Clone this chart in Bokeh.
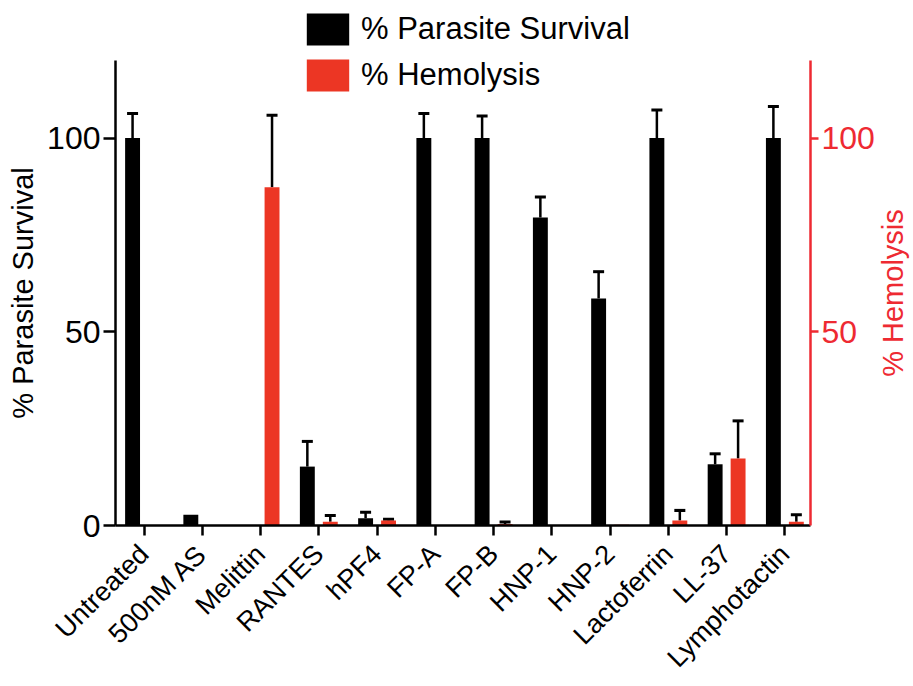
import numpy as np
from math import pi
from bokeh.plotting import figure
from bokeh.layouts import row
from bokeh.core.properties import value
from bokeh.models import (ColumnDataSource, Range1d, LinearAxis, FixedTicker,
                          Whisker, TeeHead, Legend, LegendItem)
from bokeh.transform import dodge
from bokeh.embed import file_html
from bokeh.resources import INLINE

categories = ["Untreated", "500nM AS", "Melittin", "RANTES", "hPF4", "FP-A",
              "FP-B", "HNP-1", "HNP-2", "Lactoferrin", "LL-37", "Lymphotactin"]
survival = [100, 2.8, 0, 15.2, 1.9, 100, 100, 79.5, 58.6, 100, 15.8, 100]
survival_sd = [6.3, np.nan, np.nan, 6.5, 1.5, 6.3, 5.7, 5.3, 6.9, 7.2, 2.7, 8.1]
hemolysis = [0, 0, 87.3, 1.0, 1.3, 0, 0.4, 0, 0.2, 1.3, 17.3, 1.0]
hemolysis_sd = [np.nan, np.nan, 18.6, 1.6, 0.3, np.nan, 0.5, np.nan, np.nan, 2.6, 9.7, 1.8]
left_ticks = [0, 50, 100]
right_ticks = [50, 100]
axis_max = 120
left_title = "% Parasite Survival"
right_title = "% Hemolysis"

BLACK = "#000000"
RED = "#ec3624"
AXRED = "#ee2a32"
FONT = "Liberation Sans"

H = 686
FRAME_BOTTOM = 525.0   # canvas y of the x axis
AXIS_TOP = 60.0        # canvas y where the y axes end
px_per_unit = (FRAME_BOTTOM - AXIS_TOP) / axis_max
y_end = FRAME_BOTTOM / px_per_unit

W_LEFT = 44
W_RIGHT = 35
W_MAIN = 913 - W_LEFT - W_RIGHT

x = list(range(len(categories)))
src = ColumnDataSource(dict(x=x, surv=survival, hemo=hemolysis))

def err_source(vals, sds):
    xs, lo, up = [], [], []
    for i, (v, s) in enumerate(zip(vals, sds)):
        if not np.isnan(s):
            xs.append(i); lo.append(v); up.append(v + s)
    return ColumnDataSource(dict(x=xs, lower=lo, upper=up))

surv_err = err_source(survival, survival_sd)
hemo_err = err_source(hemolysis, hemolysis_sd)

p = figure(width=W_MAIN, height=H, output_backend="svg", toolbar_location=None,
           x_range=Range1d(-0.49, 11.44), y_range=Range1d(0, y_end),
           min_border_left=112 - W_LEFT, min_border_right=W_MAIN + W_LEFT - 810,
           min_border_top=0, min_border_bottom=int(H - FRAME_BOTTOM))
p.extra_y_ranges = {"hemo": Range1d(0, y_end)}
p.outline_line_color = None
p.grid.visible = False
p.background_fill_color = "white"
p.border_fill_color = "white"

off = 0.197
bw = 0.256
r_surv = p.vbar(x=dodge("x", -off, range=p.x_range), top="surv", width=bw, source=src,
                fill_color=BLACK, line_color=None)
r_hemo = p.vbar(x=dodge("x", off, range=p.x_range), top="hemo", width=bw, source=src,
                fill_color=RED, line_color=None, y_range_name="hemo")

w1 = Whisker(base=dodge("x", -off, range=p.x_range), lower="lower", upper="upper",
             source=surv_err, line_color=BLACK, line_width=2.5,
             upper_head=TeeHead(size=11, line_width=3, line_color=BLACK), lower_head=None)
w2 = Whisker(base=dodge("x", off, range=p.x_range), lower="lower", upper="upper",
             source=hemo_err, line_color=BLACK, line_width=2.5, y_range_name="hemo",
             upper_head=TeeHead(size=11, line_width=3, line_color=BLACK), lower_head=None)
p.add_layout(w1)
p.add_layout(w2)

# x axis
xa = p.xaxis[0]
xa.ticker = FixedTicker(ticks=x)
xa.major_label_overrides = {i: c for i, c in enumerate(categories)}
xa.major_label_orientation = pi / 4
xa.major_label_text_font = FONT
xa.major_label_text_font_size = "27px"
xa.major_label_text_color = BLACK
xa.major_label_standoff = 14
xa.axis_line_width = 2.5
xa.axis_line_color = BLACK
xa.major_tick_line_width = 2.5
xa.major_tick_out = 10
xa.major_tick_in = 0
xa.minor_tick_line_color = None

# left axis
ya = p.yaxis[0]
ya.ticker = FixedTicker(ticks=left_ticks)
ya.bounds = (0, axis_max)
ya.major_label_text_font = FONT
ya.major_label_text_font_size = "32px"
ya.major_label_text_color = BLACK
ya.major_label_standoff = 3
ya.axis_line_width = 2.5
ya.major_tick_line_width = 2.5
ya.major_tick_out = 12
ya.major_tick_in = 0
ya.minor_tick_line_color = None

# right axis
ra = LinearAxis(y_range_name="hemo", ticker=FixedTicker(ticks=right_ticks), bounds=(0, axis_max))
ra.major_label_text_font = FONT
ra.major_label_text_font_size = "32px"
ra.major_label_text_color = AXRED
ra.major_label_standoff = 3
ra.axis_line_color = AXRED
ra.axis_line_width = 2.5
ra.major_tick_line_color = AXRED
ra.major_tick_line_width = 2.5
ra.major_tick_out = 8
ra.major_tick_in = 0
ra.minor_tick_line_color = None
p.add_layout(ra, "right")

legend = Legend(items=[LegendItem(label="% Parasite Survival", renderers=[r_surv]),
                       LegendItem(label="% Hemolysis", renderers=[r_hemo])],
                location=(186, 430), orientation="vertical",
                glyph_width=53, glyph_height=40, label_height=40,
                label_standoff=7, spacing=6, padding=0, margin=0,
                label_text_font=FONT, label_text_font_size="31px",
                label_text_color=BLACK, border_line_color=None,
                background_fill_alpha=0)
p.add_layout(legend)


def title_fig(width, text, color, xfrac):
    # frames in a row are aligned with the main plot's frame, so share its y scale
    f = figure(width=width, height=H, output_backend="svg", toolbar_location=None,
               x_range=Range1d(0, 1), y_range=Range1d(0, y_end),
               min_border=0, x_axis_type=None, y_axis_type=None)
    f.outline_line_color = None
    f.grid.visible = False
    f.text(x=[xfrac], y=[axis_max / 2], text=[text], angle=pi / 2,
           text_align="center", text_baseline="middle",
           text_font=value(FONT), text_font_size="29px", text_color=color)
    return f

p_left = title_fig(W_LEFT, left_title, BLACK, 0.52)
p_right = title_fig(W_RIGHT, right_title, AXRED, 0.4)

layout = row(p_left, p, p_right, spacing=0)
open("out.html", "w").write(file_html(layout, INLINE))
